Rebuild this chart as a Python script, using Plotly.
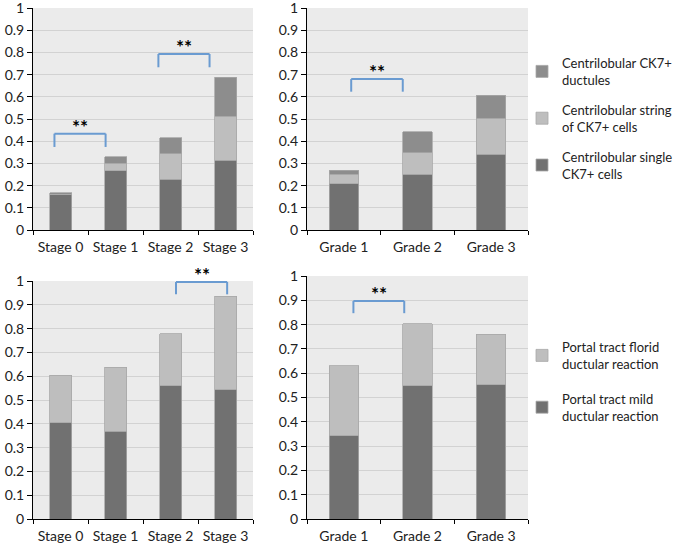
import plotly.graph_objects as go

# ---------- data ----------
stages = ["Stage 0", "Stage 1", "Stage 2", "Stage 3"]
grades = ["Grade 1", "Grade 2", "Grade 3"]

# centrilobular CK7+ (stacked segments)
cl_single_stage = [0.158, 0.266, 0.229, 0.314]
cl_string_stage = [0.004, 0.034, 0.114, 0.198]
cl_ductules_stage = [0.006, 0.030, 0.072, 0.177]

cl_single_grade = [0.208, 0.251, 0.341]
cl_string_grade = [0.043, 0.096, 0.163]
cl_ductules_grade = [0.019, 0.095, 0.103]

# portal tract ductular reaction (stacked segments)
pt_mild_stage = [0.405, 0.369, 0.559, 0.543]
pt_florid_stage = [0.200, 0.268, 0.219, 0.393]

pt_mild_grade = [0.342, 0.549, 0.552]
pt_florid_grade = [0.288, 0.254, 0.208]

# significance brackets: (subplot, left, right, top, leg bottom)
brackets = [
    ("x", "y", -0.11, 0.82, 0.434, 0.374),
    ("x", "y", 1.78, 2.71, 0.793, 0.733),
    ("x2", "y2", 0.10, 0.80, 0.680, 0.623),
    ("x3", "y3", 2.10, 3.03, 0.996, 0.944),
    ("x4", "y4", 0.13, 0.82, 0.897, 0.847),
]

C_DARK = "#717171"
C_LIGHT = "#BEBEBE"
C_MID = "#8D8D8D"
BRACKET = "#6A9BD1"
FONT = "Lato"

fig = go.Figure()


def add_bar(x, y, name, color, xa, ya, legend, rank, show):
    fig.add_trace(
        go.Bar(
            x=x,
            y=y,
            name=name,
            marker=dict(color=color, line=dict(color="#A8A8A8", width=0.8)),
            width=0.4,
            xaxis=xa,
            yaxis=ya,
            legend=legend,
            legendgroup=f"{legend}-{rank}",
            legendrank=rank,
            showlegend=show,
            hoverinfo="skip",
        )
    )


# top row
add_bar(stages, cl_single_stage, "Centrilobular single<br>CK7+ cells", C_DARK, "x", "y", "legend", 3, True)
add_bar(stages, cl_string_stage, "Centrilobular string<br>of CK7+ cells", C_LIGHT, "x", "y", "legend", 2, True)
add_bar(stages, cl_ductules_stage, "Centrilobular CK7+<br>ductules", C_MID, "x", "y", "legend", 1, True)
add_bar(grades, cl_single_grade, "single", C_DARK, "x2", "y2", "legend", 3, False)
add_bar(grades, cl_string_grade, "string", C_LIGHT, "x2", "y2", "legend", 2, False)
add_bar(grades, cl_ductules_grade, "ductules", C_MID, "x2", "y2", "legend", 1, False)

# bottom row
add_bar(stages, pt_mild_stage, "Portal tract mild<br>ductular reaction", C_DARK, "x3", "y3", "legend2", 2, True)
add_bar(stages, pt_florid_stage, "Portal tract florid<br>ductular reaction", C_LIGHT, "x3", "y3", "legend2", 1, True)
add_bar(grades, pt_mild_grade, "mild", C_DARK, "x4", "y4", "legend2", 2, False)
add_bar(grades, pt_florid_grade, "florid", C_LIGHT, "x4", "y4", "legend2", 1, False)

# brackets + stars
for xa, ya, x0, x1, top, low in brackets:
    line = dict(color=BRACKET, width=2)
    for sx0, sy0, sx1, sy1 in [(x0, low, x0, top), (x0, top, x1, top), (x1, top, x1, low)]:
        fig.add_shape(type="line", xref=xa, yref=ya, x0=sx0, y0=sy0, x1=sx1, y1=sy1, line=line)
    fig.add_annotation(
        xref=xa, yref=ya, x=(x0 + x1) / 2, y=top, text="<b>**</b>",
        showarrow=False, yanchor="bottom", yshift=-6,
        font=dict(family=FONT, size=19, color="black"),
    )

W, H = 685, 544


def xdom(a, b):
    return [a / W, b / W]


def ydom(top, bottom):
    return [(H - bottom) / H, (H - top) / H]


xcommon = dict(
    type="category", showline=True, linecolor="black", linewidth=1,
    ticks="outside", tickson="boundaries", ticklen=4, tickcolor="black",
    showgrid=False, automargin=False, ticklabelstandoff=4,
    tickfont=dict(family=FONT, size=14, color="#222"),
)
ycommon = dict(
    range=[0, 1], dtick=0.1, showline=True, linecolor="black", linewidth=1,
    ticks="outside", ticklen=5, tickcolor="black",
    showgrid=True, gridcolor="#D2D2D2", gridwidth=1, zeroline=False,
    automargin=False, ticklabeloverflow="allow",
    tickfont=dict(family=FONT, size=14, color="#222"),
)

legend_style = dict(
    xanchor="left", yanchor="top",
    traceorder="grouped",
    font=dict(family=FONT, size=13, color="#222"),
    bgcolor="rgba(0,0,0,0)", itemwidth=30,
)

fig.update_layout(
    width=W,
    height=H,
    margin=dict(l=0, r=0, t=0, b=0),
    paper_bgcolor="white",
    plot_bgcolor="#EBEBEB",
    barmode="stack",
    font=dict(family=FONT, size=13, color="#222"),
    xaxis=dict(xcommon, domain=xdom(33, 253), anchor="y"),
    yaxis=dict(ycommon, domain=ydom(8, 230), anchor="x"),
    xaxis2=dict(xcommon, domain=xdom(307, 528), anchor="y2"),
    yaxis2=dict(ycommon, domain=ydom(8, 230), anchor="x2"),
    xaxis3=dict(xcommon, domain=xdom(33, 253), anchor="y3"),
    yaxis3=dict(ycommon, domain=ydom(281, 519), anchor="x3"),
    xaxis4=dict(xcommon, domain=xdom(307, 528), anchor="y4"),
    yaxis4=dict(ycommon, domain=ydom(276, 519), anchor="x4"),
    legend=dict(legend_style, x=522 / W, y=1 - 48 / H, tracegroupgap=10),
    legend2=dict(legend_style, x=522 / W, y=1 - 332 / H, tracegroupgap=15),
)

# the page's default body margin would shift the figure by 8px
fig.write_html(
    "out.html",
    config={"displayModeBar": False},
    post_script="document.body.style.margin='0px';",
)
